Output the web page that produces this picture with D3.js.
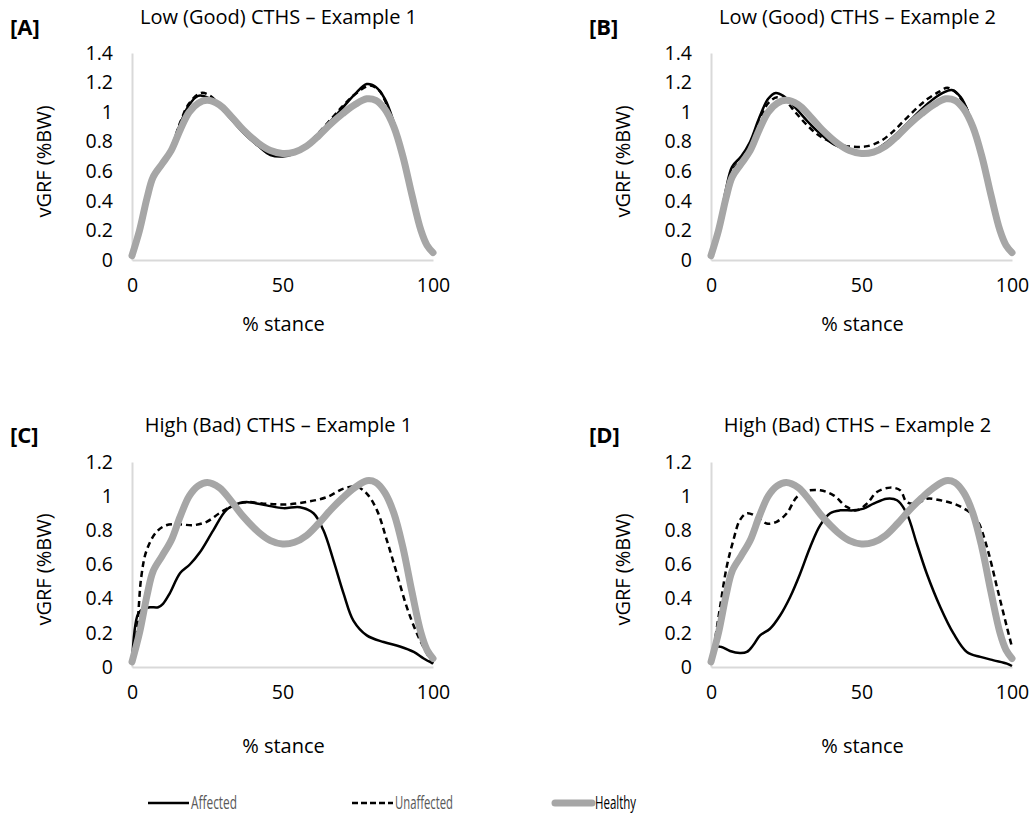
<!DOCTYPE html>
<html>
<head>
<meta charset="utf-8">
<script src="https://cdn.jsdelivr.net/npm/d3@7"></script>
<style>
  body { margin: 0; background: #fff; }
  text { font-family: "Open Sans", sans-serif; }
</style>
</head>
<body>
<div id="container"></div>
<script>
/* DATA */
// healthy reference curve, same in every panel: [% stance, vGRF]
const healthy = [[0,0.03],[2.5,0.2],[5,0.42],[7,0.56],[10,0.65],[13,0.74],[16,0.88],[19,1.0],[22,1.06],[25,1.08],[29,1.05],[33,0.97],[37,0.88],[42,0.79],[46,0.74],[50,0.72],[54,0.73],[58,0.77],[62,0.84],[66,0.92],[70,0.99],[74,1.05],[78,1.09],[81,1.08],[84,1.02],[87,0.9],[90,0.7],[93,0.44],[96,0.2],[98,0.1],[100,0.05]];

const affectedA = [[0,0.03],[2.5,0.2],[5,0.43],[7,0.58],[10,0.66],[13,0.76],[16,0.92],[19,1.05],[22,1.11],[25,1.1],[29,1.04],[33,0.95],[37,0.86],[42,0.77],[46,0.71],[50,0.70],[54,0.72],[58,0.77],[62,0.85],[66,0.94],[70,1.03],[74,1.12],[78,1.19],[81,1.17],[84,1.09],[87,0.93],[90,0.72],[93,0.46],[96,0.21],[98,0.1],[100,0.04]];
const unaffectedA = [[0,0.03],[2.5,0.2],[5,0.43],[7,0.58],[10,0.66],[13,0.76],[16,0.93],[19,1.06],[23,1.13],[26,1.11],[29,1.05],[33,0.96],[37,0.87],[42,0.78],[46,0.72],[50,0.71],[54,0.73],[58,0.78],[62,0.86],[66,0.95],[70,1.04],[74,1.12],[79,1.18],[82,1.15],[84,1.08],[87,0.92],[90,0.72],[93,0.46],[96,0.21],[98,0.1],[100,0.04]];

const affectedB = [[0,0.03],[2.5,0.22],[5,0.48],[7,0.63],[10,0.7],[13,0.8],[16,0.96],[19,1.09],[21.5,1.13],[24,1.11],[28,1.03],[32,0.94],[36,0.86],[41,0.78],[45,0.75],[50,0.73],[54,0.74],[58,0.79],[62,0.86],[66,0.94],[70,1.02],[74,1.09],[77,1.13],[80,1.15],[83,1.1],[86,0.97],[89,0.78],[92,0.54],[95,0.27],[98,0.1],[100,0.05]];
const unaffectedB = [[0,0.03],[2.5,0.21],[5,0.45],[7,0.6],[10,0.68],[13,0.78],[16,0.94],[19,1.06],[22,1.1],[25,1.07],[28,1.0],[32,0.91],[36,0.84],[41,0.79],[45,0.77],[48.5,0.765],[52,0.77],[56,0.8],[60,0.86],[64,0.94],[68,1.02],[72,1.09],[76,1.14],[78.5,1.165],[81,1.14],[84,1.06],[87,0.92],[90,0.71],[93,0.46],[96,0.21],[98,0.1],[100,0.05]];

const affectedC = [[0,0.02],[2,0.31],[3.7,0.34],[6,0.35],[8.7,0.35],[10.3,0.37],[12.5,0.43],[16,0.55],[19.2,0.6],[22.5,0.67],[27,0.8],[31.4,0.92],[35.8,0.96],[38.6,0.965],[44.7,0.946],[50.3,0.93],[55.8,0.935],[60.3,0.9],[63.6,0.8],[67,0.62],[70.3,0.43],[73.6,0.27],[78,0.185],[83.6,0.146],[89,0.12],[93.6,0.088],[96.9,0.05],[100,0.02]];
const unaffectedC = [[0.9,0.06],[2,0.29],[3.1,0.53],[4.8,0.68],[8.1,0.79],[11.4,0.83],[15.9,0.835],[20.3,0.83],[24.8,0.85],[29,0.9],[33.6,0.945],[38,0.965],[44.7,0.955],[51.4,0.952],[58,0.966],[64.8,0.995],[70.3,1.044],[74.7,1.055],[78,1.015],[81.4,0.917],[84.7,0.74],[88,0.546],[91.3,0.35],[94.7,0.195],[98,0.078],[100,0.02]];

const affectedD = [[0.5,0.05],[1.9,0.117],[3.5,0.117],[6.3,0.094],[9.6,0.082],[11.9,0.088],[14,0.127],[16.3,0.185],[19.6,0.224],[22.9,0.3],[26.3,0.41],[29.6,0.546],[32.9,0.7],[36.3,0.83],[39.6,0.9],[42.9,0.917],[47.3,0.917],[50.7,0.927],[54,0.956],[58.4,0.985],[61.8,0.976],[65,0.9],[68.4,0.72],[71.7,0.546],[76.2,0.35],[80.6,0.195],[85,0.088],[89.5,0.059],[93.9,0.039],[98.3,0.02],[100,0.006]];
const unaffectedD = [[0.5,0.06],[3,0.35],[5.2,0.585],[7.4,0.74],[9.6,0.86],[11.9,0.9],[15.2,0.88],[18.5,0.84],[21.8,0.85],[25.2,0.9],[28.5,0.995],[31.8,1.03],[36.3,1.034],[40.7,1.005],[45.1,0.937],[48.4,0.917],[51.8,0.956],[55.1,1.024],[59.6,1.05],[62.9,1.034],[65,0.966],[68.4,0.956],[71.7,0.985],[76.2,0.976],[80.6,0.956],[85,0.917],[88.4,0.86],[91.7,0.7],[95,0.468],[98.3,0.234],[100,0.117]];

const panelLabels = ["[A]", "[B]", "[C]", "[D]"];
const panelTitles = ["Low (Good) CTHS \u2013 Example 1", "Low (Good) CTHS \u2013 Example 2",
                     "High (Bad) CTHS \u2013 Example 1", "High (Bad) CTHS \u2013 Example 2"];
const affectedSets = [affectedA, affectedB, affectedC, affectedD];
const unaffectedSets = [unaffectedA, unaffectedB, unaffectedC, unaffectedD];
const yMaxes = [1.4, 1.4, 1.2, 1.2];
const xTicks = [0, 50, 100];
const legendNames = ["Affected", "Unaffected", "Healthy"];

/* LAYOUT */
const width = 1029, height = 815;
// plot boxes for each panel (pixels)
const boxes = [
  { left: 132, right: 433, top: 53, bottom: 260, titleY: 24, labelX: 10, labelY: 35, xTitleY: 331 },
  { left: 711, right: 1012, top: 53, bottom: 260, titleY: 24, labelX: 589, labelY: 35, xTitleY: 331 },
  { left: 132, right: 433, top: 462, bottom: 667, titleY: 432, labelX: 10, labelY: 443, xTitleY: 753 },
  { left: 711, right: 1012, top: 462, bottom: 667, titleY: 432, labelX: 589, labelY: 443, xTitleY: 753 }
];

const svg = d3.select("#container")
  .append("svg")
  .attr("width", width)
  .attr("height", height)

boxes.forEach((b, i) => {
  const xScale = d3.scaleLinear().domain([0, 100]).range([b.left, b.right])
  const yScale = d3.scaleLinear().domain([0, yMaxes[i]]).range([b.bottom, b.top])

  const g = svg.append("g")

  // axes: light grey lines, no tick marks
  const xAxis = d3.axisBottom(xScale).tickValues(xTicks).tickSize(0).tickPadding(18)
  const yAxis = d3.axisLeft(yScale).ticks(yMaxes[i] / 0.2).tickSize(0).tickPadding(19)
    .tickFormat(d => d3.format(".1~f")(d))

  const gx = g.append("g")
    .attr("transform", `translate(0,${b.bottom})`)
    .call(xAxis)
  const gy = g.append("g")
    .attr("transform", `translate(${b.left},0)`)
    .call(yAxis)

  ;[gx, gy].forEach(a => {
    a.select(".domain").attr("stroke", "#d9d9d9").attr("stroke-width", 2)
    a.selectAll("text").attr("fill", "#000").style("font-size", "19.5px").style("font-family", "Open Sans")
  })

  const line = d3.line()
    .x(d => xScale(d[0]))
    .y(d => yScale(d[1]))
    .curve(d3.curveCatmullRom)

  g.append("path")
    .datum(affectedSets[i])
    .attr("d", line)
    .attr("fill", "none")
    .attr("stroke", "#000")
    .attr("stroke-width", 2.5)

  g.append("path")
    .datum(unaffectedSets[i])
    .attr("d", line)
    .attr("fill", "none")
    .attr("stroke", "#000")
    .attr("stroke-width", 2.5)
    .attr("stroke-dasharray", "6,4")

  g.append("path")
    .datum(healthy)
    .attr("d", line)
    .attr("fill", "none")
    .attr("stroke", "#a6a6a6")
    .attr("stroke-width", 7)
    .attr("stroke-linecap", "round")

  // titles and labels
  g.append("text")
    .attr("x", (b.left + b.right) / 2 - 4)
    .attr("y", b.titleY)
    .attr("text-anchor", "middle")
    .style("font-size", "20px")
    .text(panelTitles[i])

  g.append("text")
    .attr("x", b.labelX)
    .attr("y", b.labelY)
    .style("font-size", "22px")
    .style("font-weight", "bold")
    .text(panelLabels[i])

  g.append("text")
    .attr("transform", `translate(${b.left - 86},${(b.top + b.bottom) / 2 + 5}) rotate(-90)`)
    .attr("text-anchor", "middle")
    .attr("dominant-baseline", "middle")
    .style("font-size", "20px")
    .text("vGRF (%BW)")

  g.append("text")
    .attr("x", (b.left + b.right) / 2 + 1)
    .attr("y", b.xTitleY)
    .attr("text-anchor", "middle")
    .style("font-size", "20px")
    .text("% stance")
})

/* LEGEND */
const legendX = [148, 352, 552];
const legendTextLen = [46, 58, 41];
const legend = svg.append("g").attr("transform", "translate(0,803)")
legendNames.forEach((name, i) => {
  const item = legend.append("g").attr("transform", `translate(${legendX[i]},0)`)
  const ln = item.append("line")
    .attr("x1", 0).attr("x2", 41).attr("y1", 0).attr("y2", 0)
  if (i === 0) ln.attr("stroke", "#000").attr("stroke-width", 2.5)
  if (i === 1) ln.attr("stroke", "#000").attr("stroke-width", 2.5).attr("stroke-dasharray", "6,3")
  if (i === 2) ln.attr("stroke", "#a6a6a6").attr("stroke-width", 7).attr("stroke-linecap", "round").attr("x1", 3).attr("x2", 40)
  item.append("text")
    .attr("x", 43)
    .attr("y", 1)
    .attr("dominant-baseline", "middle")
    .attr("fill", i === 2 ? "#000" : "#595959")
    .attr("textLength", legendTextLen[i])
    .attr("lengthAdjust", "spacingAndGlyphs")
    .style("font-size", "19px")
    .text(name)
})
</script>
</body>
</html>
